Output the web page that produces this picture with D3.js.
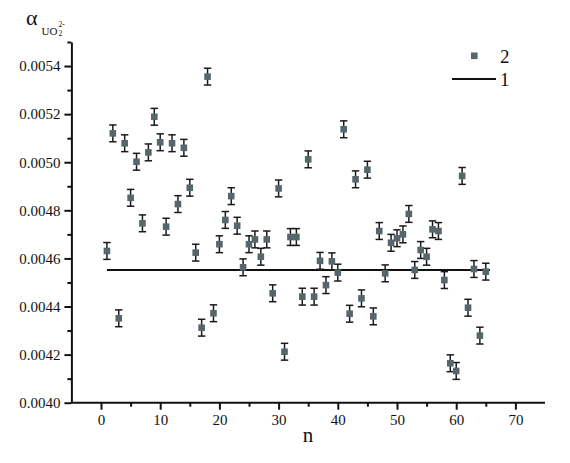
<!DOCTYPE html>
<meta charset="utf-8">
<style>
body { margin: 0; background: #fff; }
.axis path, .axis line { stroke: #111; stroke-width: 2px; }
</style>
<svg width="570" height="463"></svg>
<script src="https://d3js.org/d3.v7.min.js"></script>
<script>

// measured values, n = 1..65
var nValues = d3.range(1, 66);
var alphaValues = [
  0.004631, 0.005120, 0.004351, 0.005079, 0.004852, 0.005002, 0.004746, 0.005041, 0.005189, 0.005083,
  0.004732, 0.005079, 0.004826, 0.005060, 0.004894, 0.004624, 0.004312, 0.005356, 0.004372, 0.004659,
  0.004760, 0.004859, 0.004736, 0.004563, 0.004659, 0.004679, 0.004607, 0.004679, 0.004455, 0.004891,
  0.004212, 0.004689, 0.004689, 0.004441, 0.005012, 0.004441, 0.004590, 0.004489, 0.004588, 0.004541,
  0.005137, 0.004370, 0.004929, 0.004434, 0.004969, 0.004359, 0.004714, 0.004538, 0.004665, 0.004684,
  0.004700, 0.004785, 0.004552, 0.004635, 0.004607, 0.004721, 0.004714, 0.004510, 0.004164, 0.004132,
  0.004943, 0.004395, 0.004556, 0.004279, 0.004545
];
var errValue = 0.000035;

// line "1" (mean level)
var meanLineN = [1, 65.7];
var meanLineAlpha = [0.004552, 0.004552];

var xTicks = [0, 10, 20, 30, 40, 50, 60, 70];
var yTicks = [0.0040, 0.0042, 0.0044, 0.0046, 0.0048, 0.0050, 0.0052, 0.0054];
var legendLabels = ["2", "1"];

var serif = "Liberation Serif";
var svg = d3.select("svg").attr("font-family", serif);

var x = d3.scaleLinear().domain([-5, 75]).range([71.4, 545]);
var y = d3.scaleLinear().domain([0.0040, 0.0055]).range([402.7, 42]);

var markColor = "#55676a";

// axes
var xAxis = svg.append("g")
    .attr("class", "axis")
    .attr("transform", "translate(0," + y(0.0040) + ")")
    .call(d3.axisBottom(x).tickValues(d3.range(0, 76, 5)).tickSize(7).tickSizeOuter(0)
      .tickFormat(function(d) { return xTicks.indexOf(d) >= 0 ? d : ""; }))
    .attr("font-family", serif).attr("font-size", 15);
xAxis.selectAll(".tick line").attr("y2", function(d) { return d % 10 == 0 ? 7 : 4; });
xAxis.selectAll(".tick").filter(function(d) { return d == 75; }).remove();
xAxis.selectAll("text").attr("y", 12).attr("fill", "#111");
xAxis.select(".domain").attr("d", "M" + x(-5) + ",0H" + x(75));

var yAxis = svg.append("g")
    .attr("class", "axis")
    .attr("transform", "translate(" + x(-5) + ",0)")
    .call(d3.axisLeft(y).tickValues(d3.range(0, 16).map(function(i) { return 0.0040 + i * 0.0001; }))
      .tickSize(7).tickSizeOuter(0)
      .tickFormat(function(d) {
        return yTicks.some(function(t) { return Math.abs(t - d) < 1e-9; }) ? d3.format(".4f")(d) : "";
      }))
    .attr("font-family", serif).attr("font-size", 15);
yAxis.selectAll(".tick line").attr("x2", function(d, i) { return i % 2 == 0 ? -7 : -4; });
yAxis.selectAll("text").attr("x", -11).attr("fill", "#111");

// mean line
var line = d3.line()
    .x(function(d) { return x(d[0]); })
    .y(function(d) { return y(d[1]); });
svg.append("path")
    .datum(d3.zip(meanLineN, meanLineAlpha))
    .attr("d", line)
    .attr("fill", "none")
    .attr("stroke", "#111")
    .attr("stroke-width", 2);

// error bars
var pts = d3.zip(nValues, alphaValues);
var bars = svg.append("g").attr("stroke", "#1a1a1a").attr("stroke-width", 1.5);
bars.selectAll("line.v").data(pts).enter().append("line")
    .attr("x1", function(d) { return x(d[0]); })
    .attr("x2", function(d) { return x(d[0]); })
    .attr("y1", function(d) { return y(d[1] - errValue); })
    .attr("y2", function(d) { return y(d[1] + errValue); });
[-1, 1].forEach(function(s) {
  bars.selectAll("line.c" + s).data(pts).enter().append("line")
      .attr("x1", function(d) { return x(d[0]) - 3.7; })
      .attr("x2", function(d) { return x(d[0]) + 3.7; })
      .attr("y1", function(d) { return y(d[1] + s * errValue); })
      .attr("y2", function(d) { return y(d[1] + s * errValue); });
});

// markers
svg.append("g").selectAll("rect").data(pts).enter().append("rect")
    .attr("x", function(d) { return x(d[0]) - 3.3; })
    .attr("y", function(d) { return y(d[1]) - 3.3; })
    .attr("width", 6.6)
    .attr("height", 6.6)
    .attr("fill", markColor);

// legend
svg.append("rect").attr("x", 471).attr("y", 52.5).attr("width", 6.6).attr("height", 6.6).attr("fill", markColor);
svg.append("text").attr("x", 500).attr("y", 62.5).text(legendLabels[0]).attr("font-size", 19).attr("fill", "#111");
svg.append("line").attr("x1", 452).attr("x2", 496).attr("y1", 79).attr("y2", 79)
    .attr("stroke", "#111").attr("stroke-width", 2);
svg.append("text").attr("x", 500).attr("y", 85.5).text(legendLabels[1]).attr("font-size", 19).attr("fill", "#111");

// axis titles
svg.append("text").attr("x", 26).attr("y", 25).text("α").attr("font-size", 22).attr("fill", "#111");
svg.append("text").attr("x", 41.5).attr("y", 35).text("UO").attr("font-size", 11).attr("fill", "#111");
svg.append("text").attr("x", 58.5).attr("y", 36).text("2").attr("font-size", 7.5).attr("fill", "#111");
svg.append("text").attr("x", 58.5).attr("y", 26.5).text("2-").attr("font-size", 7.5).attr("fill", "#111");

svg.append("text").attr("x", 308).attr("y", 442).attr("text-anchor", "middle")
    .text("n").attr("font-size", 21).attr("fill", "#111");

</script>
